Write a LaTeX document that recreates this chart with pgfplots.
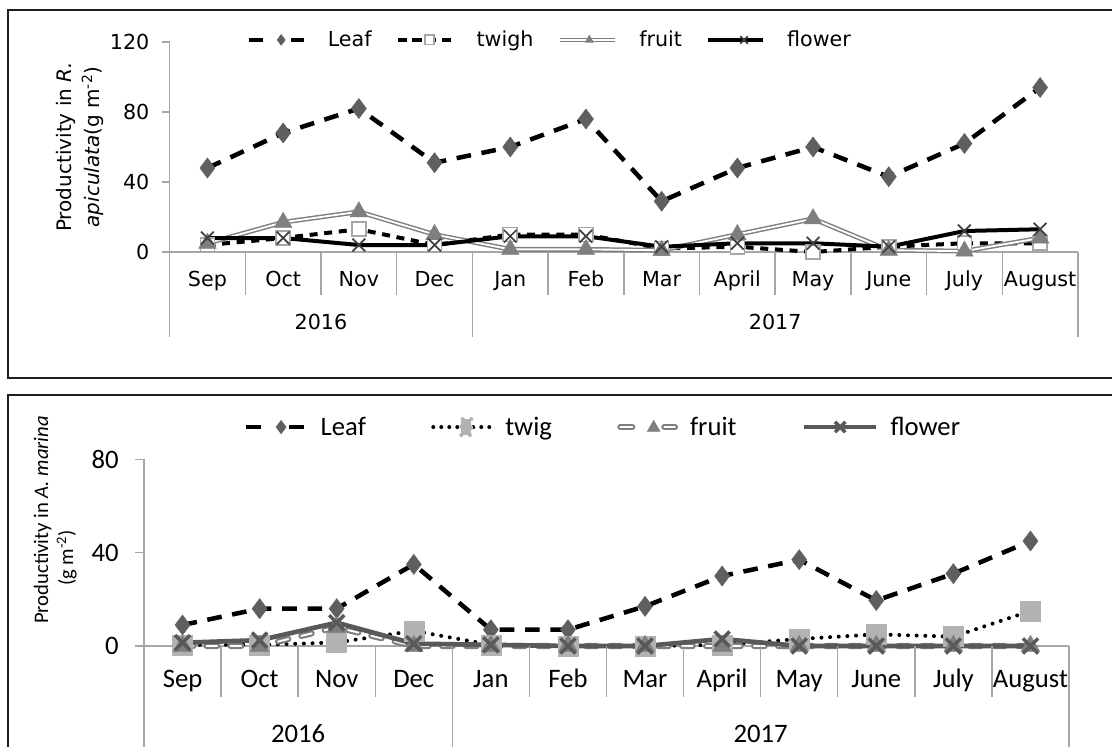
\documentclass[border=0pt]{standalone}
\usepackage{pgfplots}
\pgfplotsset{compat=1.18}
\usepackage{fontspec}
\setmainfont{DejaVu Sans}
\newfontfamily\calibri{Carlito}
\definecolor{axgray}{HTML}{A6A6A6}
\definecolor{dia}{HTML}{5F5F5F}
\definecolor{tri}{HTML}{7F7F7F}
\definecolor{sqlight}{HTML}{B2B2B2}
\definecolor{xdark}{HTML}{595959}
\definecolor{frm}{HTML}{1E1E1E}
\newcommand\topfont{\fontsize{15.5bp}{18bp}\selectfont}
\newcommand\toplab{\fontsize{15bp}{17bp}\selectfont}
\newcommand\botfont{\calibri\fontsize{20bp}{24bp}\selectfont}
\newcommand\botlab{\calibri\fontsize{15.5bp}{18bp}\selectfont}

\pgfplotsset{
  base/.style={
    scale only axis, clip=false,
    axis lines*=left,
    axis line style={draw=axgray, line width=1.1bp},
    xmin=-0.5, xmax=11.5, ymin=0,
    xtick={0,...,11},
    xticklabels={Sep,Oct,Nov,Dec,Jan,Feb,Mar,April,May,June,July,August},
    x tick style={draw=none},
    y tick style={draw=axgray, line width=1.1bp},
    tick align=outside,
    /pgf/number format/assume math mode=true,
    legend columns=4,
    legend cell align=left,
  }
}

\begin{document}
\begin{tikzpicture}
\path[use as bounding box] (0bp,0bp) rectangle (834bp,-560.25bp);
\clip (0bp,0bp) rectangle (834bp,-560.25bp);
\draw[frm, line width=2bp] (6bp,-7.5bp) rectangle (845bp,-283.5bp);
\draw[frm, line width=2bp] (6bp,-296.25bp) rectangle (845bp,-580bp);

% ---------- top panel ----------
\node[rotate=90, anchor=base, font=\toplab] at (53.25bp,-110.25bp) {Productivity in \textit{R.}};
\node[rotate=90, anchor=base, font=\toplab] at (74.25bp,-110.25bp) {\textit{apiculata}(g m\textsuperscript{-2})};

\begin{axis}[base,
  at={(127.2bp,-189bp)}, anchor=south west,
  width=681.3bp, height=157.5bp,
  ymax=120, ytick={0,40,80,120},
  major tick length=6bp,
  ticklabel style={font=\topfont},
  xticklabel style={anchor=base, inner sep=0pt, yshift=-20bp},
  yticklabel style={anchor=east, inner sep=0pt, xshift=-9bp},
  legend style={at={(0.0841,1.01)}, anchor=west, draw=none, fill=none,
    inner sep=0pt, font=\topfont, nodes={inner sep=0pt},
    /tikz/every odd column/.append style={column sep=16.5bp},
    /tikz/every even column/.append style={column sep=18bp}},
]
\addplot[black, line width=3.4bp, dash pattern=on 11bp off 8bp,
  mark=diamond*, mark size=7.5bp, mark options={solid, draw=dia, fill=dia, line width=0.4bp},
  legend image code/.code={
    \draw[black, line width=3.4bp] (0bp,0bp) -- (12bp,0bp);
    \draw[black, line width=3.4bp] (32bp,0bp) -- (41.25bp,0bp);
    \draw[dia, fill=dia] plot[mark=diamond*, mark size=4bp] coordinates {(24.5bp,0bp)};}]
  coordinates {(0,48) (1,68) (2,82) (3,51) (4,60) (5,76) (6,29) (7,48) (8,60) (9,43) (10,62) (11,94)};
\addlegendentry{Leaf}
\addplot[black, line width=3bp, dash pattern=on 6bp off 5bp,
  mark=square*, mark size=5.25bp, mark options={solid, draw=axgray, fill=white, line width=1.2bp},
  legend image code/.code={
    \draw[black, line width=3bp, dash pattern=on 7bp off 4bp] (0bp,0bp) -- (41.25bp,0bp);
    \draw[axgray, fill=white, line width=1bp] plot[mark=square*, mark size=3.5bp] coordinates {(24bp,0bp)};}]
  coordinates {(0,4) (1,8) (2,13) (3,4) (4,10) (5,10) (6,2) (7,3) (8,0) (9,3) (10,5) (11,5)};
\addlegendentry{twigh}
\addplot[tri, line width=1.1bp, double=white, double distance=1.4bp, forget plot]
  coordinates {(0,5) (1,17) (2,23) (3,10) (4,1.5) (5,1.5) (6,1) (7,10) (8,19) (9,1) (10,0.5) (11,8)};
\addplot[only marks, mark=triangle*, mark size=7.5bp, mark options={draw=tri, fill=tri, line width=0.4bp},
  legend image code/.code={
    \draw[tri, line width=1.1bp, double=white, double distance=1.4bp] (0bp,0bp) -- (41.25bp,0bp);
    \draw[tri, fill=tri] plot[mark=triangle*, mark size=3.5bp] coordinates {(22bp,0bp)};}]
  coordinates {(0,5) (1,17) (2,23) (3,10) (4,1.5) (5,1.5) (6,1) (7,10) (8,19) (9,1) (10,0.5) (11,8)};
\addlegendentry{fruit}
\addplot[black, line width=3bp,
  mark=x, mark size=6.75bp, mark options={draw=black!75, line width=1.3bp},
  legend image code/.code={
    \draw[black, line width=3bp] (0bp,0bp) -- (41.25bp,0bp);
    \draw[black!60, line width=0.6bp] plot[mark=x, mark size=4bp] coordinates {(27bp,0bp)};}]
  coordinates {(0,8) (1,8) (2,4) (3,4) (4,9) (5,9) (6,3) (7,5) (8,5) (9,3) (10,12) (11,13)};
\addlegendentry{flower}
\foreach \b in {0.5,1.5,2.5,4.5,5.5,6.5,7.5,8.5,9.5,10.5}{
  \edef\tmp{\noexpand\draw[axgray, line width=1.1bp] (axis cs:\b,0) -- ++(0bp,-32.25bp);}\tmp}
\foreach \b in {-0.5,3.5,11.5}{
  \edef\tmp{\noexpand\draw[axgray, line width=1.1bp] (axis cs:\b,0) -- ++(0bp,-63.75bp);}\tmp}
\node[anchor=base, font=\topfont, yshift=-58bp] at (axis cs:1.5,0) {2016};
\node[anchor=base, font=\topfont, yshift=-58bp] at (axis cs:7.5,0) {2017};
\end{axis}

% ---------- bottom panel ----------
\node[rotate=90, anchor=base, font=\botlab] at (36bp,-390bp) {Productivity in \textit{A. marina}};
\node[rotate=90, anchor=base, font=\botlab] at (54.75bp,-418.5bp) {(g m\textsuperscript{-2})};

\begin{axis}[base,
  at={(108bp,-484.5bp)}, anchor=south west,
  width=693.75bp, height=140bp,
  ymax=80, ytick={0,40,80},
  major tick length=6.75bp,
  ticklabel style={font=\botfont},
  xticklabel style={anchor=base, inner sep=0pt, yshift=-24.5bp},
  yticklabel style={anchor=east, inner sep=0pt, xshift=-12bp},
  legend style={at={(0.108,1.173)}, anchor=west, draw=none, fill=none,
    inner sep=0pt, font=\botfont, nodes={inner sep=0pt},
    /tikz/every odd column/.append style={column sep=9bp},
    /tikz/every even column/.append style={column sep=49bp}},
]
\addplot[black, line width=3.4bp, dash pattern=on 11bp off 8bp,
  mark=diamond*, mark size=7.5bp, mark options={solid, draw=dia, fill=dia, line width=0.4bp},
  legend image code/.code={
    \draw[black, line width=3.4bp] (0bp,0bp) -- (16bp,0bp);
    \draw[black, line width=3.4bp] (32bp,0bp) -- (45bp,0bp);
    \draw[dia, fill=dia] plot[mark=diamond*, mark size=5bp] coordinates {(26bp,0bp)};}]
  coordinates {(0,9) (1,16) (2,16) (3,35) (4,7) (5,7) (6,17) (7,30) (8,37) (9,19.5) (10,31) (11,45)};
\addlegendentry{Leaf}
\addplot[black, line width=3bp, dash pattern=on 0bp off 6.5bp, line cap=round,
  mark=square*, mark size=7.5bp, mark options={solid, draw=sqlight, fill=sqlight, line width=0.4bp},
  legend image code/.code={
    \draw[black, line width=3bp, dash pattern=on 0bp off 6bp, line cap=round] (1.5bp,0bp) -- (45bp,0bp);
    \fill[sqlight] (22.5bp,-6bp) rectangle (30bp,6bp);}]
  coordinates {(0,0.5) (1,0.5) (2,1.5) (3,6.5) (4,0.5) (5,0) (6,0) (7,0.5) (8,3) (9,5) (10,4) (11,15)};
\addlegendentry{twig}
\addplot[tri, line width=1.6bp, double=white, double distance=1.4bp, dash pattern=on 8bp off 10bp, line cap=round, forget plot]
  coordinates {(0,0) (1,0) (2,8) (3,0) (4,0) (5,0) (6,0) (7,0) (8,0) (9,0) (10,0) (11,0)};
\addplot[only marks, mark=triangle*, mark size=8bp, mark options={draw=tri, fill=tri, line width=0.4bp},
  legend image code/.code={
    \draw[tri, line width=1.6bp, double=white, double distance=1.4bp, line cap=round] (2bp,0bp) -- (11bp,0bp);
    \draw[tri, line width=1.6bp, double=white, double distance=1.4bp, line cap=round] (35bp,0bp) -- (43bp,0bp);
    \draw[tri, fill=tri] plot[mark=triangle*, mark size=5.5bp] coordinates {(27bp,-0.5bp)};}]
  coordinates {(0,0) (1,0) (2,8) (3,0) (4,0) (5,0) (6,0) (7,0) (8,0) (9,0) (10,0) (11,0)};
\addlegendentry{fruit}
\addplot[xdark, line width=3.5bp,
  mark=x, mark size=8bp, mark options={draw=xdark, line width=2.6bp},
  legend image code/.code={
    \draw[xdark, line width=3.5bp] (0bp,0bp) -- (54bp,0bp);
    \draw[black!35, line width=0.6bp] plot[mark=x, mark size=5.5bp] coordinates {(27bp,0bp)};}]
  coordinates {(0,1.4) (1,2.5) (2,10) (3,1) (4,0.5) (5,0) (6,0) (7,3) (8,0) (9,0) (10,0) (11,0)};
\addlegendentry{flower}
\foreach \b in {0.5,1.5,2.5,4.5,5.5,6.5,7.5,8.5,9.5,10.5}{
  \edef\tmp{\noexpand\draw[axgray, line width=1.1bp] (axis cs:\b,0) -- ++(0bp,-38.25bp);}\tmp}
\foreach \b in {-0.5,3.5,11.5}{
  \edef\tmp{\noexpand\draw[axgray, line width=1.1bp] (axis cs:\b,0) -- ++(0bp,-90bp);}\tmp}
\node[anchor=base, font=\botfont, yshift=-72bp] at (axis cs:1.5,0) {2016};
\node[anchor=base, font=\botfont, yshift=-72bp] at (axis cs:7.5,0) {2017};
\end{axis}
\end{tikzpicture}
\end{document}
